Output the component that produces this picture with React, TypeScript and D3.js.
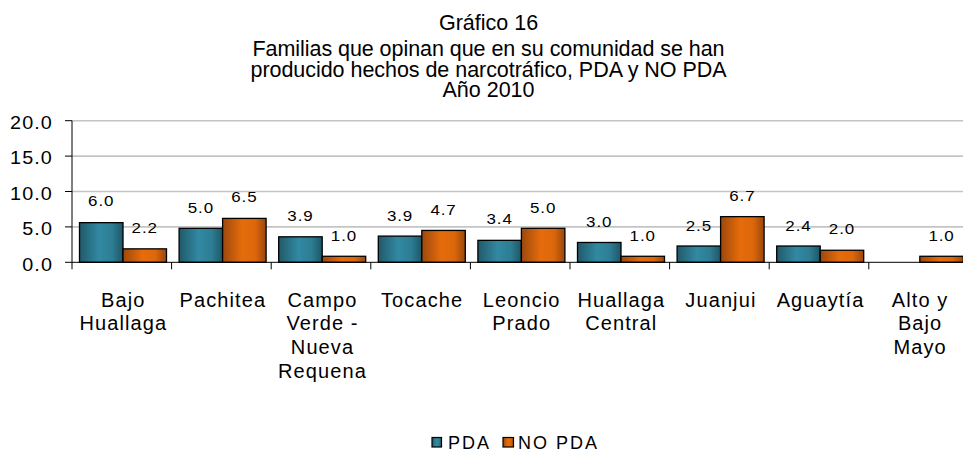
import React from "react";
import * as d3 from "d3";

const categories: string[][] = [
  ["Bajo", "Huallaga"],
  ["Pachitea"],
  ["Campo", "Verde -", "Nueva", "Requena"],
  ["Tocache"],
  ["Leoncio", "Prado"],
  ["Huallaga", "Central"],
  ["Juanjui"],
  ["Aguaytía"],
  ["Alto y", "Bajo", "Mayo"],
];
const series = ["PDA", "NO PDA"];
// bar heights as drawn in the picture
const pdaBars = [5.6, 4.8, 3.6, 3.7, 3.1, 2.8, 2.3, 2.3, 0];
const noPdaBars = [1.9, 6.2, 0.85, 4.5, 4.8, 0.85, 6.45, 1.7, 0.85];
// printed data labels
const pdaLabels: (number | null)[] = [6.0, 5.0, 3.9, 3.9, 3.4, 3.0, 2.5, 2.4, null];
const noPdaLabels: (number | null)[] = [2.2, 6.5, 1.0, 4.7, 5.0, 1.0, 6.7, 2.0, 1.0];
const yTicks = [0, 5, 10, 15, 20];
const titleLines = [
  "Gráfico 16",
  "Familias que opinan que en su comunidad se han",
  "producido hechos de narcotráfico, PDA y NO PDA",
  "Año 2010",
];

const W = 963;
const H = 450;
const FONT = "'Liberation Sans', Arial, sans-serif";

export default function App() {
  const catKeys = categories.map((c) => c.join(" "));
  const x = d3.scaleBand<string>().domain(catKeys).range([72, 968.4]).padding(0);
  const inner = d3.scaleBand<string>().domain(series).range([7.5, 94.5]).padding(0);
  const y = d3.scaleLinear().domain([0, 20]).range([262.3, 120.7]);
  const fmt = d3.format(".1f");

  const barSets = [pdaBars, noPdaBars];
  const labelSets = [pdaLabels, noPdaLabels];
  const fills = ["url(#gPDA)", "url(#gNO)"];

  const titleY = [30, 55.5, 77, 97];
  const titleLen: (number | undefined)[] = [undefined, 472, 476, undefined];

  const boundaries = catKeys.map((k) => x(k)!);

  return (
    <svg
      width={W}
      height={H}
      style={{ position: "absolute", left: 0, top: 0, background: "#fff" }}
      fontFamily={FONT}
    >
      <defs>
        <linearGradient id="gPDA" x1="0" x2="1" y1="0" y2="0">
          <stop offset="0" stopColor="#22596a" />
          <stop offset="0.45" stopColor="#3189a2" />
          <stop offset="0.75" stopColor="#2d7d94" />
          <stop offset="1" stopColor="#1f5666" />
        </linearGradient>
        <linearGradient id="gNO" x1="0" x2="1" y1="0" y2="0">
          <stop offset="0" stopColor="#9c480d" />
          <stop offset="0.45" stopColor="#e66c0b" />
          <stop offset="0.75" stopColor="#dc670b" />
          <stop offset="1" stopColor="#9a470d" />
        </linearGradient>
      </defs>

      {/* title */}
      {titleLines.map((t, i) => (
        <text
          key={i}
          x={488.5}
          y={titleY[i]}
          textAnchor="middle"
          fontSize={21.5}
          fill="#000"
          {...(titleLen[i] ? { textLength: titleLen[i], lengthAdjust: "spacing" } : {})}
        >
          {t}
        </text>
      ))}

      {/* gridlines */}
      {yTicks
        .filter((t) => t > 0)
        .map((t) => (
          <line key={t} x1={72} x2={W} y1={y(t)} y2={y(t)} stroke="#c4c4c4" strokeWidth={1.6} />
        ))}

      {/* y axis */}
      <line x1={72} x2={72} y1={y(20)} y2={y(0)} stroke="#000" strokeWidth={1} />
      {yTicks.map((t) => (
        <g key={t}>
          <line x1={65} x2={72} y1={y(t)} y2={y(t)} stroke="#000" strokeWidth={1} />
          <text
            transform={`translate(53,${y(t) + 8.3}) scale(1.13,1)`}
            textAnchor="end"
            fontSize={17.5}
            letterSpacing={1}
            fill="#000"
          >
            {fmt(t)}
          </text>
        </g>
      ))}

      {/* bars */}
      {catKeys.map((k, ci) =>
        series.map((s, si) => {
          const v = barSets[si][ci];
          if (!v) return null;
          const bx = x(k)! + inner(s)!;
          return (
            <rect
              key={k + s}
              x={bx}
              y={y(v)}
              width={inner.bandwidth()}
              height={y(0) - y(v)}
              fill={fills[si]}
              stroke="#000"
              strokeWidth={1.3}
            />
          );
        })
      )}

      {/* x axis */}
      <line x1={72} x2={W} y1={y(0)} y2={y(0)} stroke="#000" strokeWidth={1} />
      {boundaries.map((bx, i) => (
        <line key={i} x1={bx} x2={bx} y1={y(0)} y2={y(0) + 7} stroke="#000" strokeWidth={1} />
      ))}

      {/* data labels */}
      {catKeys.map((k, ci) =>
        series.map((s, si) => {
          const lv = labelSets[si][ci];
          if (lv == null) return null;
          const cx = x(k)! + inner(s)! + inner.bandwidth() / 2;
          return (
            <text
              key={"l" + k + s}
              transform={`translate(${cx},${y(lv) - 14}) scale(1.13,1)`}
              textAnchor="middle"
              fontSize={15}
              letterSpacing={0.8}
              fill="#000"
            >
              {fmt(lv)}
            </text>
          );
        })
      )}

      {/* category labels */}
      {categories.map((lines, ci) => (
        <text
          key={"c" + ci}
          x={x(catKeys[ci])! + x.bandwidth() / 2 + 1.5}
          y={306.7}
          textAnchor="middle"
          fontSize={20}
          letterSpacing={1.1}
          fill="#000"
        >
          {lines.map((ln, li) => (
            <tspan key={li} x={x(catKeys[ci])! + x.bandwidth() / 2 + 1.5} dy={li === 0 ? 0 : 23.6}>
              {ln}
            </tspan>
          ))}
        </text>
      ))}

      {/* legend */}
      <rect x={432} y={437.5} width={9.5} height={9.5} fill="url(#gPDA)" stroke="#000" strokeWidth={1.2} />
      <text x={448} y={449} fontSize={18} letterSpacing={2} fill="#000">
        {series[0]}
      </text>
      <rect x={503} y={437.5} width={10.5} height={9.5} fill="url(#gNO)" stroke="#000" strokeWidth={1.2} />
      <text x={518} y={449} fontSize={18} letterSpacing={2} fill="#000">
        {series[1]}
      </text>
    </svg>
  );
}
